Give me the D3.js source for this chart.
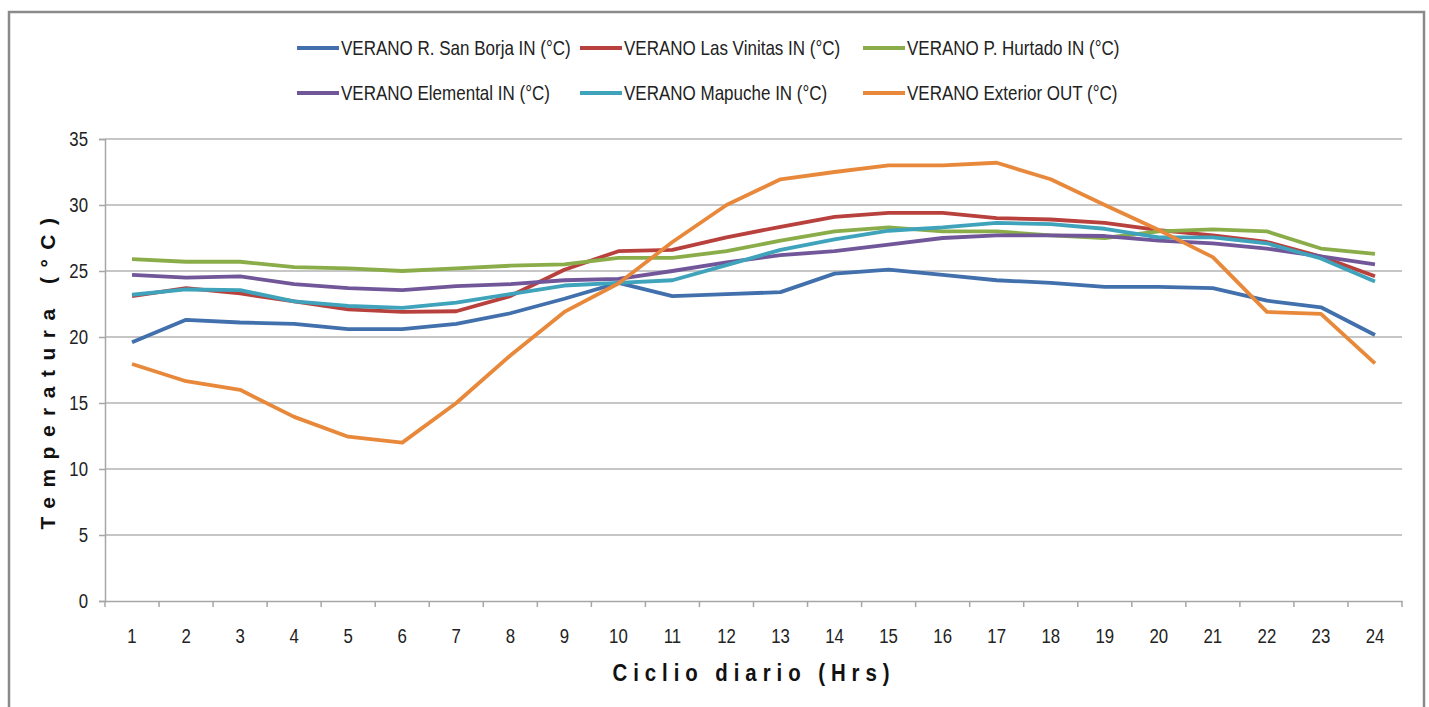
<!DOCTYPE html>
<html>
<head>
<meta charset="utf-8">
<script src="https://cdn.jsdelivr.net/npm/d3@7"></script>
<style>
  body { margin: 0; background: #fff; }
  svg { display: block; }
</style>
</head>
<body>
<svg width="1429" height="707"></svg>
<script>
var svg = d3.select("svg"),
    width = +svg.attr("width"),
    height = +svg.attr("height");

// horas del ciclo diario
var hours = d3.range(1, 25);
var yTicks = [0, 5, 10, 15, 20, 25, 30, 35];

var seriesNames = [
  "VERANO R. San Borja IN (°C)",
  "VERANO Las Vinitas IN (°C)",
  "VERANO P. Hurtado IN (°C)",
  "VERANO Elemental IN (°C)",
  "VERANO Mapuche IN (°C)",
  "VERANO Exterior OUT (°C)"
];
var seriesColors = ["#4170ac", "#b8413e", "#8aad4a", "#71579a", "#3ea3bb", "#e8883a"];

var sanBorja  = [19.6, 21.3, 21.1, 21.0, 20.6, 20.6, 21.0, 21.8, 22.9, 24.1, 23.1, 23.25, 23.4, 24.8, 25.1, 24.7, 24.3, 24.1, 23.8, 23.8, 23.7, 22.75, 22.25, 20.15];
var vinitas   = [23.1, 23.7, 23.3, 22.7, 22.1, 21.9, 21.95, 23.1, 25.1, 26.5, 26.6, 27.55, 28.35, 29.1, 29.4, 29.4, 29.0, 28.9, 28.65, 28.1, 27.7, 27.2, 26.1, 24.6];
var hurtado   = [25.9, 25.7, 25.7, 25.3, 25.2, 25.0, 25.2, 25.4, 25.5, 26.0, 26.0, 26.5, 27.3, 28.0, 28.3, 28.0, 28.0, 27.7, 27.5, 28.0, 28.15, 28.0, 26.7, 26.3];
var elemental = [24.7, 24.5, 24.6, 24.0, 23.7, 23.55, 23.85, 24.0, 24.3, 24.4, 25.0, 25.65, 26.2, 26.5, 27.0, 27.5, 27.7, 27.7, 27.65, 27.3, 27.1, 26.7, 26.1, 25.5];
var mapuche   = [23.2, 23.6, 23.55, 22.7, 22.35, 22.2, 22.6, 23.25, 23.9, 24.1, 24.3, 25.45, 26.6, 27.4, 28.05, 28.3, 28.65, 28.55, 28.2, 27.55, 27.55, 27.1, 25.95, 24.2];
var exterior  = [17.95, 16.65, 16.0, 13.95, 12.45, 12.0, 15.0, 18.6, 21.9, 24.05, 27.2, 30.0, 31.95, 32.5, 33.0, 33.0, 33.2, 31.95, 30.0, 28.1, 26.05, 21.9, 21.75, 18.0];

var allSeries = [sanBorja, vinitas, hurtado, elemental, mapuche, exterior];

var plot = {left: 105, right: 1402, top: 139, bottom: 601};

// marco exterior
svg.append("path")
  .attr("d", "M9," + height + "V12H1424V" + height)
  .attr("fill", "none")
  .attr("stroke", "#8a8a8a")
  .attr("stroke-width", 2.5);

var x = d3.scaleBand()
  .domain(hours)
  .range([plot.left, plot.right]);

var y = d3.scaleLinear()
  .domain([0, 35])
  .range([plot.bottom, plot.top]);

// grid
svg.append("g")
  .selectAll("line")
  .data(yTicks.slice(1))
  .enter().append("line")
  .attr("x1", plot.left)
  .attr("x2", plot.right)
  .attr("y1", function(d) { return y(d); })
  .attr("y2", function(d) { return y(d); })
  .attr("stroke", "#b3b3b3")
  .attr("stroke-width", 1.5);

// eje y
var yAxis = svg.append("g")
  .attr("transform", "translate(" + plot.left + ",0)")
  .call(d3.axisLeft(y).tickValues(yTicks).tickSize(6).tickPadding(10));
yAxis.select(".domain").attr("stroke", "#a6a6a6").attr("stroke-width", 1.5);
yAxis.selectAll(".tick line").attr("stroke", "#a6a6a6").attr("stroke-width", 1.5);
yAxis.selectAll(".tick text")
  .attr("x", 0)
  .attr("transform", "translate(-17,0) scale(0.8,1)")
  .style("font-family", "'Liberation Sans', Arial, sans-serif")
  .style("font-size", "21px")
  .style("fill", "#222");

// eje x (marcas entre categorias)
var xAxis = svg.append("g")
  .attr("transform", "translate(0," + plot.bottom + ")")
  .call(d3.axisBottom(x).tickSize(0));
xAxis.select(".domain").attr("stroke", "#a6a6a6").attr("stroke-width", 1.5);
xAxis.selectAll(".tick text")
  .attr("y", 0)
  .attr("dy", "0")
  .attr("transform", "translate(0,42) scale(0.8,1)")
  .style("font-family", "'Liberation Sans', Arial, sans-serif")
  .style("font-size", "21px")
  .style("fill", "#222");

svg.append("g")
  .selectAll("line")
  .data(hours.concat([25]))
  .enter().append("line")
  .attr("x1", function(d) { return d === 25 ? plot.right : x(d); })
  .attr("x2", function(d) { return d === 25 ? plot.right : x(d); })
  .attr("y1", plot.bottom)
  .attr("y2", plot.bottom + 6)
  .attr("stroke", "#a6a6a6")
  .attr("stroke-width", 1.5);

// lineas
var line = d3.line()
  .x(function(d, i) { return x(hours[i]) + x.bandwidth() / 2; })
  .y(function(d) { return y(d); });

svg.append("g")
  .selectAll("path")
  .data(allSeries)
  .enter().append("path")
  .attr("d", line)
  .attr("fill", "none")
  .attr("stroke", function(d, i) { return seriesColors[i]; })
  .attr("stroke-width", 3.8)
  .attr("stroke-linejoin", "round");

// leyenda
var legend = svg.append("g")
  .selectAll("g")
  .data(seriesNames)
  .enter().append("g")
  .attr("transform", function(d, i) {
    return "translate(" + (297 + (i % 3) * 283) + "," + (48 + Math.floor(i / 3) * 45) + ")";
  });

legend.append("line")
  .attr("x1", 0)
  .attr("x2", 42)
  .attr("stroke", function(d, i) { return seriesColors[i]; })
  .attr("stroke-width", 4);

legend.append("text")
  .attr("transform", "translate(44,0) scale(0.81,1)")
  .attr("dy", "0.35em")
  .style("font-family", "'Liberation Sans', Arial, sans-serif")
  .style("font-size", "21px")
  .style("fill", "#222")
  .text(function(d) { return d; });

// titulos
svg.append("text")
  .attr("transform", "translate(754,681) scale(0.85,1)")
  .attr("text-anchor", "middle")
  .style("font-family", "'Liberation Sans', Arial, sans-serif")
  .style("font-weight", "bold")
  .style("font-size", "24px")
  .style("letter-spacing", "7px")
  .style("fill", "#111")
  .text("Ciclio diario (Hrs)");

svg.append("text")
  .attr("transform", "translate(55,369) rotate(-90)")
  .attr("text-anchor", "middle")
  .style("font-family", "'Liberation Sans', Arial, sans-serif")
  .style("font-weight", "bold")
  .style("font-size", "21px")
  .style("letter-spacing", "9.5px")
  .style("fill", "#111")
  .text("Temperatura (°C)");
</script>
</body>
</html>
